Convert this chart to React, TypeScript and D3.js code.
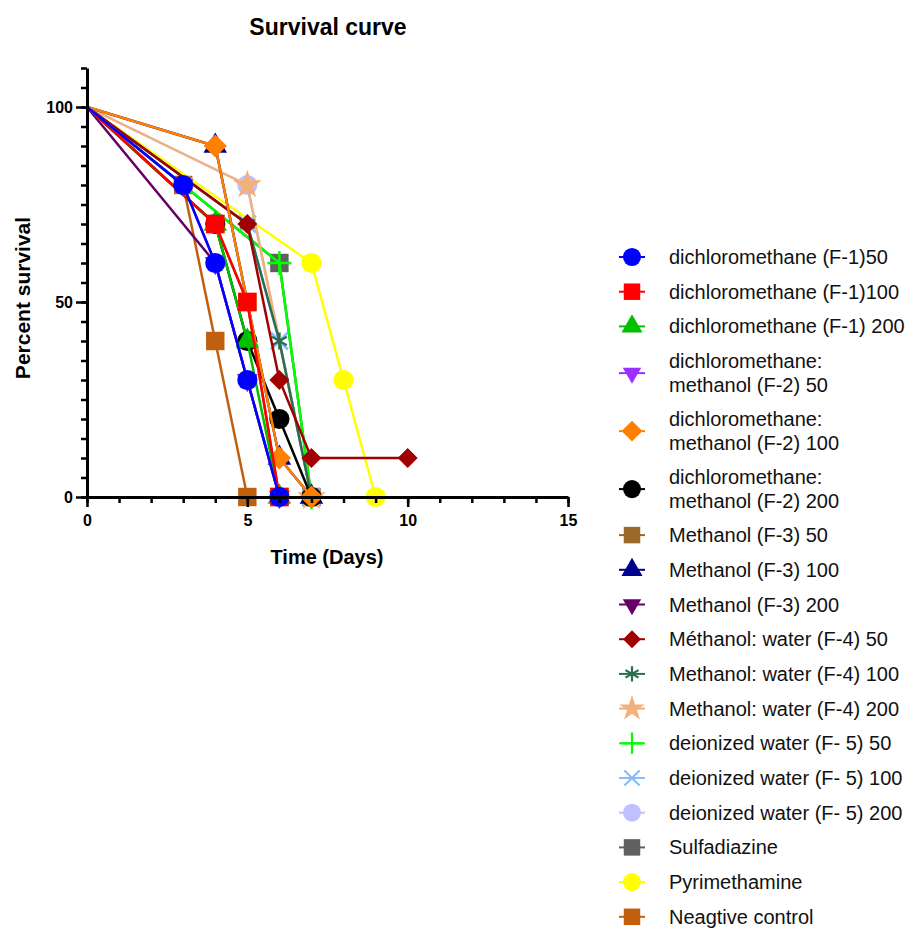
import React, { useEffect, useRef } from 'react';
import * as d3 from 'd3';

// legend labels, in the order of the reference legend
const seriesNames = [
  'dichloromethane (F-1)50',
  'dichloromethane (F-1)100',
  'dichloromethane (F-1) 200',
  'dichloromethane:\nmethanol (F-2) 50',
  'dichloromethane:\nmethanol (F-2) 100',
  'dichloromethane:\nmethanol (F-2) 200',
  'Methanol (F-3) 50',
  'Methanol (F-3) 100',
  'Methanol (F-3) 200',
  'Méthanol: water (F-4) 50',
  'Methanol: water (F-4) 100',
  'Methanol: water (F-4) 200',
  'deionized water (F- 5) 50',
  'deionized water (F- 5) 100',
  'deionized water (F- 5) 200',
  'Sulfadiazine',
  'Pyrimethamine',
  'Neagtive control',
];

// time points (days) per series
const seriesDays = [
  [0, 3, 4, 5, 6],
  [0, 4, 5, 6],
  [0, 4, 5, 6],
  [0, 3, 4, 5, 6],
  [0, 4, 6, 7],
  [0, 4, 5, 6, 7],
  [0, 4, 5, 6],
  [0, 4, 6, 7],
  [0, 4, 5, 6],
  [0, 5, 6, 7, 10],
  [0, 5, 6, 7],
  [0, 5, 7],
  [0, 6, 7],
  [0, 5, 6, 7],
  [0, 5, 7],
  [0, 6, 7],
  [0, 7, 8, 9],
  [0, 3, 4, 5],
];

// percent survival per series
const seriesSurvival = [
  [100, 80, 60, 30, 0],
  [100, 70, 50, 0],
  [100, 70, 40, 0],
  [100, 80, 60, 30, 0],
  [100, 90, 10, 0],
  [100, 70, 40, 20, 0],
  [100, 70, 50, 0],
  [100, 90, 10, 0],
  [100, 60, 30, 0],
  [100, 70, 30, 10, 10],
  [100, 70, 40, 0],
  [100, 80, 0],
  [100, 60, 0],
  [100, 70, 40, 0],
  [100, 80, 0],
  [100, 60, 0],
  [100, 60, 30, 0],
  [100, 80, 40, 0],
];

const xTicks = [0, 5, 10, 15];
const yTicks = [0, 50, 100];

const colors = [
  '#0000ff', '#ff0000', '#00c000', '#9b30ff', '#ff8000', '#000000',
  '#9a6a2a', '#000090', '#660066', '#a00000', '#2a6e50', '#f2b07a',
  '#00ff00', '#88bbff', '#c0c0ff', '#606060', '#ffff00', '#c0600f',
];
const shapes = [
  'circle', 'square', 'triangle', 'triangleDown', 'diamond', 'circle',
  'square', 'triangle', 'triangleDown', 'diamondSmall', 'asterisk', 'star',
  'plus', 'times', 'circle', 'square', 'circle', 'square',
];

const strokeShapes = ['asterisk', 'plus', 'times'];

const symbolFor = (shape: string, k: number) => {
  const types: Record<string, [any, number, number]> = {
    circle: [d3.symbolCircle, 320, 0],
    square: [d3.symbolSquare, 340, 0],
    triangle: [d3.symbolTriangle, 240, 0],
    triangleDown: [d3.symbolTriangle, 185, 180],
    diamond: [d3.symbolSquare, 270, 45],
    diamondSmall: [d3.symbolSquare, 200, 45],
    asterisk: [d3.symbolAsterisk, 200, 0],
    star: [d3.symbolStar, 260, 0],
    plus: [d3.symbolPlus, 190, 0],
    times: [d3.symbolTimes, 190, 0],
  };
  const [type, size, rot] = types[shape];
  return { d: d3.symbol().type(type).size(size * k)(), rot };
};

const App = () => {
  const ref = useRef<SVGSVGElement>(null);

  useEffect(() => {
    document.body.style.margin = '0';
    const svg = d3.select(ref.current);
    svg.selectAll('*').remove();

    const font = 'Liberation Sans, Arial, sans-serif';
    const x = d3.scaleLinear().domain([0, 15]).range([87, 568]);
    const y = d3.scaleLinear().domain([0, 110]).range([497, 68]);

    // title
    svg.append('text')
      .attr('x', 328).attr('y', 27)
      .attr('text-anchor', 'middle').attr('dominant-baseline', 'central')
      .style('font', `bold 23px ${font}`)
      .text('Survival curve');

    // series, first one ends up on top
    const line = d3.line<[number, number]>()
      .x(d => x(d[0]))
      .y(d => y(d[1]));

    for (let i = seriesNames.length - 1; i >= 0; i--) {
      const pts = seriesDays[i].map((d, j) => [d, seriesSurvival[i][j]] as [number, number]);
      const g = svg.append('g');
      g.append('path')
        .attr('d', line(pts))
        .attr('fill', 'none')
        .attr('stroke', colors[i])
        .attr('stroke-width', 2.5);
      const sym = symbolFor(shapes[i], 1);
      const isStroke = strokeShapes.includes(shapes[i]);
      // no symbol at the starting point (day 0)
      g.selectAll('path.m')
        .data(pts.filter(d => d[0] > 0))
        .enter().append('path')
        .attr('class', 'm')
        .attr('d', sym.d)
        .attr('transform', d => `translate(${x(d[0])},${y(d[1])}) rotate(${sym.rot})`)
        .attr('fill', isStroke ? 'none' : colors[i])
        .attr('stroke', isStroke ? colors[i] : 'none')
        .attr('stroke-width', isStroke ? 2.5 : 0);
    }

    // y axis
    const yMinor = svg.append('g')
      .attr('transform', `translate(${x(0)},0)`)
      .call(d3.axisLeft(y).tickValues(d3.range(0, 111, 5)).tickSize(6).tickSizeOuter(0).tickFormat(() => ''));
    yMinor.select('.domain').attr('stroke-width', 3);
    yMinor.selectAll('line').attr('stroke-width', 2.5);

    const yMajor = svg.append('g')
      .attr('transform', `translate(${x(0)},0)`)
      .call(d3.axisLeft(y).tickValues(yTicks).tickSize(11).tickPadding(3).tickSizeOuter(0));
    yMajor.select('.domain').remove();
    yMajor.selectAll('line').attr('stroke-width', 2.5);
    yMajor.selectAll('text').style('font', `bold 16px ${font}`).attr('fill', '#000');

    // x axis
    const xMinor = svg.append('g')
      .attr('transform', `translate(0,${y(0)})`)
      .call(d3.axisBottom(x).tickValues(d3.range(0, 16, 1)).tickSize(6).tickSizeOuter(0).tickFormat(() => ''));
    xMinor.select('.domain').attr('stroke-width', 3);
    xMinor.selectAll('line').attr('stroke-width', 2.5);

    const xMajor = svg.append('g')
      .attr('transform', `translate(0,${y(0)})`)
      .call(d3.axisBottom(x).tickValues(xTicks).tickSize(10).tickPadding(8).tickSizeOuter(0));
    xMajor.select('.domain').remove();
    xMajor.selectAll('line').attr('stroke-width', 2.5);
    xMajor.selectAll('text').style('font', `bold 16px ${font}`).attr('fill', '#000');

    // axis titles
    svg.append('text')
      .attr('x', 327).attr('y', 557)
      .attr('text-anchor', 'middle').attr('dominant-baseline', 'central')
      .style('font', `bold 20px ${font}`)
      .text('Time (Days)');
    svg.append('text')
      .attr('transform', 'translate(22,298) rotate(-90)')
      .attr('text-anchor', 'middle').attr('dominant-baseline', 'central')
      .style('font', `bold 21px ${font}`)
      .text('Percent survival');

    // legend
    const legend = svg.append('g');
    let rowY = 257;
    seriesNames.forEach((name, i) => {
      const lines = name.split('\n');
      const lineGap = 24;
      const my = rowY + (lines.length - 1) * lineGap / 2;
      legend.append('line')
        .attr('x1', 619).attr('x2', 645)
        .attr('y1', my).attr('y2', my)
        .attr('stroke', colors[i]).attr('stroke-width', 2);
      const sym = symbolFor(shapes[i], 0.8);
      const isStroke = strokeShapes.includes(shapes[i]);
      legend.append('path')
        .attr('d', sym.d)
        .attr('transform', `translate(632,${my}) rotate(${sym.rot})`)
        .attr('fill', isStroke ? 'none' : colors[i])
        .attr('stroke', isStroke ? colors[i] : 'none')
        .attr('stroke-width', isStroke ? 2.2 : 0);
      lines.forEach((t, j) => {
        legend.append('text')
          .attr('x', 669).attr('y', rowY + j * lineGap)
          .attr('dominant-baseline', 'central')
          .style('font', `20px ${font}`)
          .attr('fill', '#111')
          .text(t);
      });
      rowY += lines.length > 1 ? 58 : 34.7;
    });
  }, []);

  return <svg ref={ref} width={917} height={929} style={{ display: 'block' }} />;
};

export default App;
